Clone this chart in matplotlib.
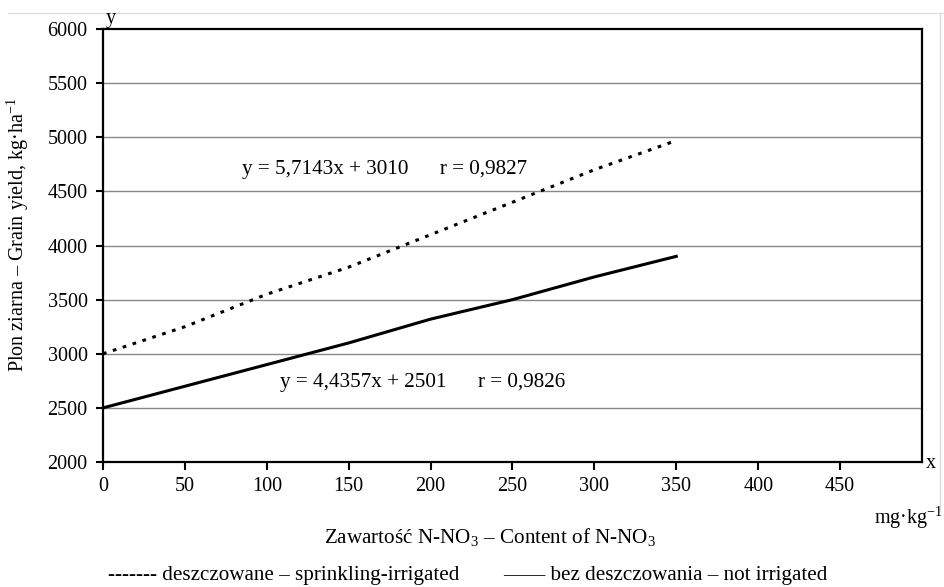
import matplotlib.pyplot as plt
from matplotlib.lines import Line2D

plt.rcParams['font.family'] = ['Liberation Serif', 'DejaVu Serif']
plt.rcParams['mathtext.fontset'] = 'custom'
plt.rcParams['mathtext.rm'] = 'Liberation Serif'

# values
x_vals = [0, 50, 100, 150, 200, 250, 300, 350]
irrigated = [3000, 3250, 3550, 3800, 4100, 4400, 4700, 4970]
not_irrigated = [2500, 2700, 2900, 3100, 3320, 3500, 3710, 3900]
x_ticks = [0, 50, 100, 150, 200, 250, 300, 350, 400, 450]
y_ticks = [2000, 2500, 3000, 3500, 4000, 4500, 5000, 5500, 6000]

fs = 14.5
fs_big = 15.2
fig = plt.figure(figsize=(9.44, 5.87), dpi=100)
ax = fig.add_axes([0.1091, 0.2129, 0.8676, 0.7377])

for yt in y_ticks[1:-1]:
    ax.axhline(yt, color='#888888', lw=1.0, zorder=1)

ax.plot(x_vals, irrigated, color='black', lw=2.2, linestyle=(0, (1.2, 2.2)), zorder=3)
ax.plot(x_vals, not_irrigated, color='black', lw=2.2, zorder=3)

ax.set_xlim(0, 500)
ax.set_ylim(2000, 6000)
ax.set_xticks(x_ticks)
ax.set_yticks(y_ticks)
ax.tick_params(axis='x', direction='out', length=6, width=1.5, labelsize=fs, pad=5)
ax.tick_params(axis='y', direction='out', length=5, width=1.5, labelsize=fs, pad=6)
for s in ax.spines.values():
    s.set_linewidth(1.6)

ax.text(85, 4700, 'y = 5,7143x + 3010      r = 0,9827', fontsize=fs_big, va='center')
ax.text(108, 2730, 'y = 4,4357x + 2501      r = 0,9826', fontsize=fs_big, va='center')

fig.text(0.112, 0.969, 'y', fontsize=fs, ha='left', va='center')
fig.text(0.981, 0.211, 'x', fontsize=fs, ha='left', va='center')
fig.text(0.999, 0.119, 'mg·kg$^{\\mathregular{-1}}$', fontsize=fs, ha='right', va='center')
fig.text(0.519, 0.0835, 'Zawartość N-NO$_3$ – Content of N-NO$_3$', fontsize=fs_big, ha='center', va='center')
fig.text(0.114, 0.0204, '------- deszczowane – sprinkling-irrigated', fontsize=fs_big, ha='left', va='center')
fig.text(0.533, 0.0204, '—— bez deszczowania – not irrigated', fontsize=fs_big, ha='left', va='center')
fig.text(0.019, 0.601, 'Plon ziarna – Grain yield, kg·ha$^{\\mathregular{-1}}$', fontsize=fs,
         rotation=90, ha='center', va='center')

# faint page border lines
fig.add_artist(Line2D([0.008, 1.0], [0.978, 0.978], color='#dddddd', lw=1, transform=fig.transFigure))
fig.add_artist(Line2D([0.996, 0.996], [0.13, 0.978], color='#dddddd', lw=1, transform=fig.transFigure))

fig.savefig('out.png', dpi=100)
